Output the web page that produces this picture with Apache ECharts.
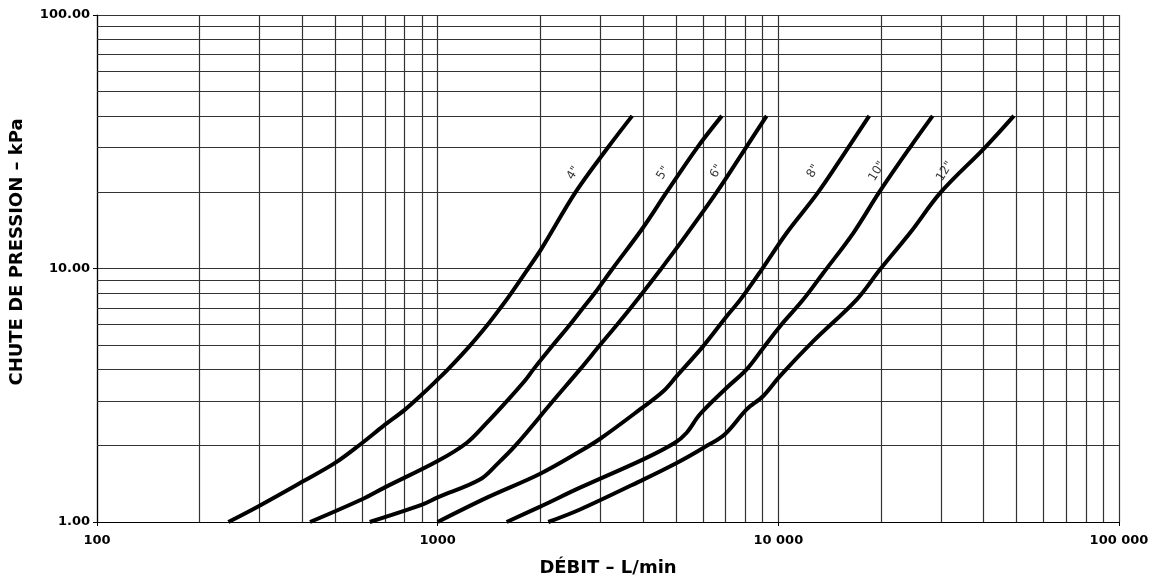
<!DOCTYPE html>
<html>
<head>
<meta charset="utf-8">
<script src="https://cdn.jsdelivr.net/npm/echarts@6/dist/echarts.min.js"></script>
<style>html,body{margin:0;padding:0;background:#fff}#c{width:1159px;height:582px}</style>
</head>
<body>
<div id="c"></div>
<script>
// ---- data ----
const sizes = ['4"', '5"', '6"', '8"', '10"', '12"'];

const flow4 = [243, 300, 400, 500, 600, 692, 800, 900, 1000, 1072, 1250, 1401, 1530, 1645, 1844, 2020, 2540, 3160, 3724];
const drop4 = [1, 1.16, 1.44, 1.71, 2.05, 2.39, 2.77, 3.19, 3.65, 4, 5, 6, 7, 8, 10, 12, 20, 30, 40];

const flow5 = [422, 600, 700, 1000, 1216, 1393, 1611, 1815, 1910, 2183, 2444, 2674, 2893, 3264, 4000, 4700, 5780, 6826];
const drop5 = [1, 1.23, 1.37, 1.74, 2.05, 2.46, 3.04, 3.65, 4, 5, 6, 7, 8, 10, 14.45, 20, 30, 40];

const flow6 = [632, 900, 1000, 1330, 1500, 1690, 2180, 2617, 3000, 3361, 3691, 3993, 4536, 5135, 6595, 8035, 9241];
const drop6 = [1, 1.17, 1.25, 1.47, 1.7, 2, 3, 4, 5, 6, 7, 8, 10, 12.5, 20, 30, 40];

const flow8 = [1000, 1400, 2000, 2617, 3000, 3925, 4595, 5029, 6019, 7054, 7716, 8935, 10576, 13093, 16043, 18487];
const drop8 = [1, 1.25, 1.55, 1.9, 2.13, 2.78, 3.28, 3.76, 4.94, 6.48, 7.5, 9.9, 13.8, 20, 30, 40];

const flow10 = [1594, 2000, 2617, 4013, 4972, 5381, 5887, 7054, 8072, 9031, 10108, 11834, 13550, 16596, 19780, 24338, 28374];
const drop10 = [1, 1.15, 1.366, 1.767, 2.055, 2.25, 2.66, 3.385, 4.0, 4.86, 5.91, 7.54, 9.6, 13.8, 20, 30, 40];

const flow12 = [2112, 2617, 4013, 5029, 6019, 6971, 8072, 9031, 10108, 12665, 16982, 19873, 24335, 30000, 40408, 49135];
const drop12 = [1, 1.12, 1.47, 1.71, 1.96, 2.22, 2.78, 3.14, 3.76, 5.17, 7.54, 9.9, 13.8, 20, 30, 40];

// label anchor (flow, drop) for each size
const labelFlow = [2500, 4592, 6590, 12660, 19500, 30830];
const labelDrop = [23.8, 23.8, 24.2, 24.2, 24.2, 24.2];

// axes
const xTickValues = [100, 1000, 10000, 100000];
const xTickLabels = ['100', '1000', '10 000', '100 000'];
const yTickValues = [1, 10, 100];
const yTickLabels = ['1.00', '10.00', '100.00'];
const minorX = [200, 300, 400, 500, 600, 700, 800, 900,
                2000, 3000, 4000, 5000, 6000, 7000, 8000, 9000,
                20000, 30000, 40000, 50000, 60000, 70000, 80000, 90000];
const minorY = [2, 3, 4, 5, 6, 7, 8, 9, 20, 30, 40, 50, 60, 70, 80, 90];

const xTitle = 'DÉBIT – L/min';
const yTitle = 'CHUTE DE PRESSION – kPa';

// ---- chart ----
const FONT = '"DejaVu Sans", Verdana, sans-serif';
const flows = [flow4, flow5, flow6, flow8, flow10, flow12];
const drops = [drop4, drop5, drop6, drop8, drop10, drop12];

function labelFor(list, labels, v) {
  let best = 0, bd = Infinity;
  list.forEach((t, i) => { const d = Math.abs(Math.log10(v) - Math.log10(t)); if (d < bd) { bd = d; best = i; } });
  return bd < 0.01 ? labels[best] : '';
}

const curveSeries = sizes.map((s, k) => ({
  name: s,
  type: 'line',
  data: flows[k].map((f, i) => [f, drops[k][i]]),
  showSymbol: false,
  smooth: 0.35,
  lineStyle: { color: '#000', width: 4 },
  z: 5,
  silent: true
}));

const gridLineStyle = { color: '#333', width: 1.2, type: 'solid' };

const option = {
  animation: false,
  backgroundColor: '#fff',
  grid: { left: 97, right: 40, top: 15, bottom: 59, containLabel: false },
  xAxis: {
    type: 'log', logBase: 10, min: 100, max: 100000,
    name: xTitle, nameLocation: 'middle', nameGap: 37,
    nameTextStyle: { fontFamily: FONT, fontWeight: 'bold', fontSize: 18, color: '#000' },
    axisLine: { show: true, lineStyle: { color: '#000', width: 1.2 } },
    axisTick: { show: true, length: 4, lineStyle: { color: '#000' } },
    axisLabel: {
      fontFamily: FONT, fontWeight: 'bold', fontSize: 13, color: '#000', margin: 12,
      formatter: v => labelFor(xTickValues, xTickLabels, v)
    },
    splitLine: { show: true, lineStyle: gridLineStyle }
  },
  yAxis: {
    type: 'log', logBase: 10, min: 1, max: 100,
    axisLine: { show: true, lineStyle: { color: '#000', width: 1.2 } },
    axisTick: { show: true, length: 4, lineStyle: { color: '#000' } },
    axisLabel: {
      fontFamily: FONT, fontWeight: 'bold', fontSize: 13, color: '#000', margin: 7,
      formatter: v => labelFor(yTickValues, yTickLabels, v)
    },
    splitLine: { show: true, lineStyle: gridLineStyle }
  },
  graphic: [{
    type: 'text',
    rotation: Math.PI / 2,
    x: 17, y: 252,
    style: { text: yTitle, font: 'bold 18px ' + FONT, fill: '#000', textAlign: 'center', textVerticalAlign: 'middle' }
  }],
  series: [
    {
      type: 'line', data: [[100, 1]], showSymbol: false, lineStyle: { opacity: 0 }, z: 1, silent: true,
      markLine: {
        silent: true, symbol: ['none', 'none'], label: { show: false }, animation: false,
        lineStyle: gridLineStyle,
        data: minorX.map(v => ({ xAxis: v })).concat(minorY.map(v => ({ yAxis: v })))
      }
    },
    ...curveSeries,
    {
      type: 'scatter', symbolSize: 0, z: 6, silent: true,
      data: sizes.map((s, k) => ({ value: [labelFlow[k], labelDrop[k]], name: s })),
      label: {
        show: true, position: 'inside', formatter: p => p.name, rotate: 58,
        fontFamily: FONT, fontSize: 12, color: '#000'
      }
    }
  ]
};

const chart = echarts.init(document.getElementById('c'), null, { renderer: 'canvas' });
chart.setOption(option);
</script>
</body>
</html>
